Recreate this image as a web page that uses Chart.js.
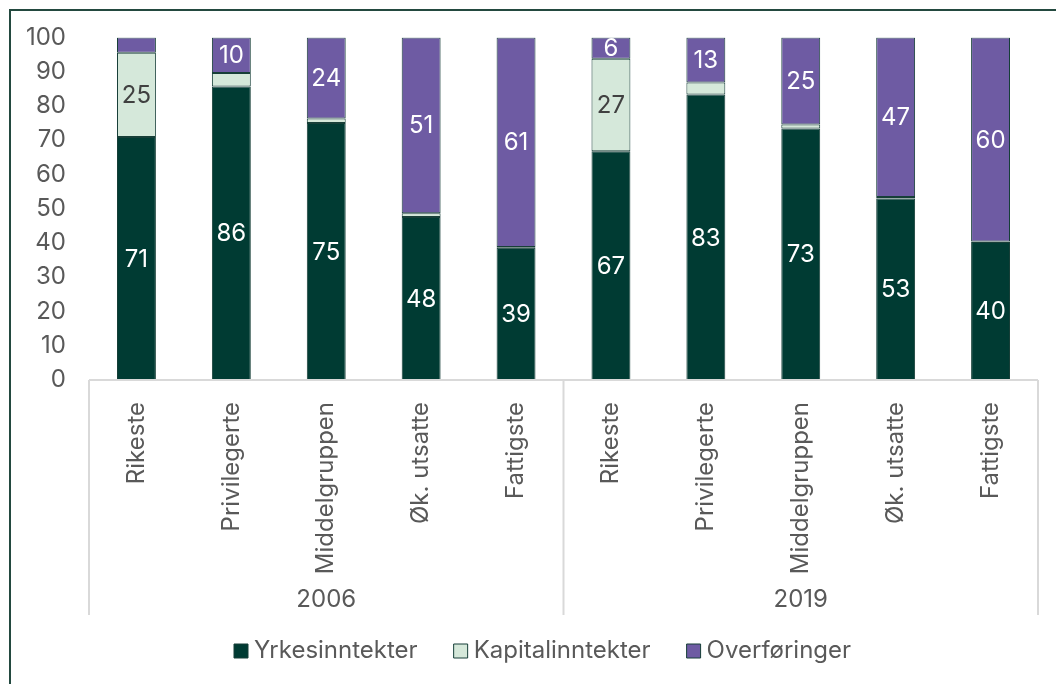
<!DOCTYPE html>
<html>
<head>
<meta charset="utf-8">
<script src="https://cdn.jsdelivr.net/npm/chart.js@4"></script>
<style>
  html, body { margin: 0; padding: 0; background: #fff; overflow: hidden; }
  #frame { position: absolute; left: 9px; top: 9px; width: 1200px; height: 800px; border: 2px solid #23493f; }
  #wrap { position: absolute; left: 0; top: 0; width: 1056px; height: 684px; }
</style>
</head>
<body>
<div id="frame"></div>
<div id="wrap"><canvas id="chart" width="1056" height="684"></canvas></div>
<script>
// categories and groups
const groups = ['Rikeste', 'Privilegerte', 'Middelgruppen', 'Øk. utsatte', 'Fattigste'];
const years = ['2006', '2019'];
const labels = years.flatMap(() => groups);

// shares in percent, 2006 first then 2019
const yrkesinntekter = [70.9, 85.7, 75.0, 47.6, 38.6, 66.8, 83.3, 73.4, 53.0, 40.3];
const kapitalinntekter = [24.6, 3.9, 1.3, 1.1, 0.2, 27.0, 3.5, 1.2, 0.4, 0.1];
const overforinger = [4.5, 10.4, 23.7, 51.3, 61.2, 6.2, 13.2, 25.4, 46.6, 59.6];

const yTicks = [0, 10, 20, 30, 40, 50, 60, 70, 80, 90, 100];

const grey = '#595959';
const edge = '#173f38';
const font = 'Inter';

// numbers inside the bar segments
const valueLabels = {
  id: 'valueLabels',
  afterDatasetsDraw(chart) {
    const ctx = chart.ctx;
    ctx.save();
    ctx.font = '24px ' + font;
    ctx.textAlign = 'center';
    ctx.textBaseline = 'middle';
    chart.data.datasets.forEach((ds, di) => {
      const meta = chart.getDatasetMeta(di);
      meta.data.forEach((bar, i) => {
        const v = ds.data[i];
        if (v < 5) return;
        ctx.fillStyle = di == 1 ? '#404040' : '#ffffff';
        ctx.fillText(Math.round(v), bar.x, (bar.y + bar.base) / 2 + 1);
      });
    });
    ctx.restore();
  }
};

// axis line, group separators and year labels
const groupAxis = {
  id: 'groupAxis',
  afterDraw(chart) {
    const ctx = chart.ctx;
    const x = chart.scales.x;
    const bottom = chart.chartArea.bottom;
    const mid = (x.getPixelForValue(4) + x.getPixelForValue(5)) / 2;
    ctx.save();
    ctx.strokeStyle = '#d9d9d9';
    ctx.lineWidth = 2;
    ctx.beginPath();
    ctx.moveTo(x.left, bottom);
    ctx.lineTo(x.right, bottom);
    [x.left, mid, x.right].forEach(px => {
      ctx.moveTo(px, bottom);
      ctx.lineTo(px, 615);
    });
    ctx.stroke();
    ctx.fillStyle = grey;
    ctx.font = '24px ' + font;
    ctx.textAlign = 'center';
    ctx.textBaseline = 'middle';
    ctx.fillText(years[0], (x.left + mid) / 2, 600);
    ctx.fillText(years[1], (mid + x.right) / 2, 600);
    ctx.restore();
  }
};

// legend sits left of centre in the original
const legendShift = {
  id: 'legendShift',
  beforeDraw(chart) {
    const lg = chart.legend;
    lg.left = 0;
    lg.right = 480 - 42 + lg.lineWidths[0];
    lg.top = 597;
  }
};

function series(label, data, color) {
  return {
    label: label,
    data: data,
    backgroundColor: color,
    borderColor: edge,
    borderWidth: 1,
    borderSkipped: false,
    barPercentage: 0.41,
    categoryPercentage: 1
  };
}

new Chart(document.getElementById('chart'), {
  type: 'bar',
  data: {
    labels: labels,
    datasets: [
      series('Yrkesinntekter', yrkesinntekter, '#003b33'),
      series('Kapitalinntekter', kapitalinntekter, '#d5e8da'),
      series('Overføringer', overforinger, '#6e5ba3')
    ]
  },
  options: {
    responsive: false,
    animation: false,
    layout: { padding: { top: 36, right: 18, left: 0, bottom: 0 } },
    plugins: {
      tooltip: { enabled: false },
      legend: {
        position: 'bottom',
        labels: {
          color: grey,
          font: { family: font, size: 24 },
          usePointStyle: true,
          pointStyle: 'rect',
          boxWidth: 2,
          boxHeight: 14,
          padding: 42
        }
      }
    },
    scales: {
      x: {
        stacked: true,
        grid: { display: false },
        border: { display: false },
        ticks: {
          color: grey,
          font: { family: font, size: 24 },
          minRotation: 90,
          maxRotation: 90,
          padding: 14,
          autoSkip: false
        },
        afterFit(scale) { scale.height = 228; }
      },
      y: {
        stacked: true,
        min: 0,
        max: 100,
        grid: { display: false, drawTicks: false },
        border: { display: false },
        afterBuildTicks(scale) { scale.ticks = yTicks.map(v => ({ value: v })); },
        ticks: {
          color: grey,
          font: { family: font, size: 24 },
          padding: 23
        },
        afterFit(scale) { scale.width = 89; }
      }
    }
  },
  plugins: [valueLabels, groupAxis, legendShift]
});
</script>
</body>
</html>
